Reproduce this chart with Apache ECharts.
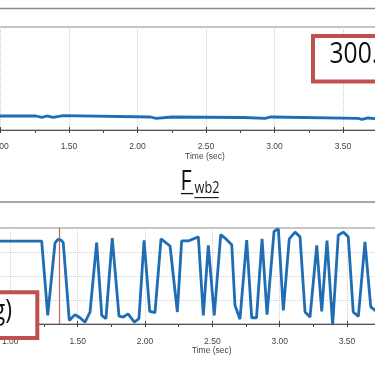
<!DOCTYPE html>
<html><head><meta charset="utf-8">
<script src="https://cdn.jsdelivr.net/npm/echarts@6/dist/echarts.min.js"></script>
<style>html,body{margin:0;padding:0;background:#fff}#c{width:375px;height:375px}</style>
</head><body><div id="c"></div><script>
// Top panel (nearly constant trace)
const topTime = [0.90, 1.259, 1.259, 1.301, 1.301, 1.339, 1.339, 1.383, 1.383, 1.456, 1.456, 2.095, 2.095, 2.135, 2.135, 2.252, 2.252, 2.777, 2.777, 2.931, 2.931, 2.975, 2.975, 3.610, 3.610, 3.639, 3.639, 3.683, 3.683, 3.80];
const topValue = [40.8, 40.8, 37.0, 37.0, 40.8, 40.8, 37.0, 37.0, 41.7, 41.7, 37.9, 37.9, 34.1, 34.1, 37.9, 37.9, 36.4, 36.4, 34.1, 34.1, 37.9, 37.9, 34.1, 34.1, 31.2, 31.2, 35.0, 35.0, 31.2, 31.2];
// Bottom panel F_wb2 (oscillating trace)
const botTime = [0.90, 1.233, 1.278, 1.332, 1.354, 1.376, 1.393, 1.438, 1.480, 1.517, 1.555, 1.592, 1.641, 1.679, 1.710, 1.757, 1.807, 1.839, 1.874, 1.921, 1.955, 1.993, 2.035, 2.074, 2.119, 2.186, 2.240, 2.272, 2.321, 2.396, 2.433, 2.470, 2.514, 2.562, 2.594, 2.644, 2.668, 2.705, 2.755, 2.792, 2.828, 2.869, 2.906, 2.958, 2.990, 3.027, 3.071, 3.114, 3.151, 3.188, 3.225, 3.275, 3.312, 3.351, 3.393, 3.435, 3.472, 3.509, 3.546, 3.584, 3.633, 3.676, 3.708, 3.745];
const botValue = [3.45, 3.45, 0.36, 3.38, 3.53, 3.50, 3.39, 0.15, 0.39, 0.26, 0.08, 0.50, 3.39, 0.36, 0.22, 3.58, 0.33, 0.29, 0.42, 0.08, 0.22, 3.49, 0.53, 0.47, 3.55, 3.25, 0.50, 3.46, 3.46, 3.63, 0.36, 3.28, 0.36, 3.72, 3.58, 3.30, 0.78, 0.20, 3.50, 0.26, 0.26, 3.55, 0.39, 3.86, 3.97, 0.57, 3.55, 3.83, 3.63, 0.50, 0.29, 3.28, 0.53, 3.48, -0.05, 3.70, 3.83, 3.63, 0.50, 0.32, 3.42, 0.71, 0.57, 0.54];
const markerTime = [1.3615];
const xTitle = 'Time (sec)';
const topBoxText = '300.0';
const botBoxText = 'g)';
const panelTitleMain = 'F';
const panelTitleSub = 'wb2';

const BLUE = '#1f6db4';
const RED = '#c0504d';
const SANS = '"Liberation Sans", Arial, sans-serif';
const BIG = '"Open Sans", "Liberation Sans", sans-serif';
const NARROW = 0.8;

function pairs(t, v) { return t.map((x, i) => [x, v[i]]); }

function xAxisPair(gi, margin) {
  return [{
    type: 'value', gridIndex: gi, min: 0.5, max: 4.0, interval: 0.5,
    axisLine: { show: true, onZero: false, lineStyle: { color: '#555', width: 1 } },
    axisTick: { show: true, length: 3, lineStyle: { color: '#444' } },
    minorTick: { show: true, splitNumber: 2, length: 3, lineStyle: { color: '#444' } },
    axisLabel: { margin: margin, fontSize: 8.5, color: '#444', fontFamily: SANS, formatter: v => v.toFixed(2), hideOverlap: false },
    splitLine: { show: true, lineStyle: { color: '#cfcfcf', type: 'dotted' } },
    minorSplitLine: { show: false }
  }, {
    type: 'value', gridIndex: gi, min: 0.5, max: 4.0, interval: 0.5, position: 'bottom',
    axisLine: { show: false, onZero: false },
    axisTick: { show: true, inside: true, length: 3, lineStyle: { color: '#444' } },
    minorTick: { show: false },
    axisLabel: { show: false },
    splitLine: { show: false }
  }];
}

function txt(x, y, text, size, align, color, sx, family) {
  return { type: 'text', x: x, y: y, z: 101, scaleX: sx || 1,
    style: { text: text, fontSize: size, fontFamily: family || SANS, fill: color, align: align, verticalAlign: 'middle', textAlign: align, textVerticalAlign: 'middle' } };
}

const chart = echarts.init(document.getElementById('c'), null, { renderer: 'canvas' });
chart.setOption({
  animation: false,
  backgroundColor: '#fff',
  grid: [
    { left: -68, top: 27, width: 479.5, height: 103, show: true, borderColor: '#888', borderWidth: 1, backgroundColor: 'transparent', containLabel: false, outerBoundsMode: 'none' },
    { left: -57.05, top: 228, width: 471.45, height: 96, show: true, borderColor: '#888', borderWidth: 1, backgroundColor: 'transparent', containLabel: false, outerBoundsMode: 'none' }
  ],
  xAxis: [].concat(xAxisPair(0, 12), xAxisPair(1, 13)),
  yAxis: [
    { type: 'value', gridIndex: 0, min: 0, max: 300, axisLine: { show: false }, axisTick: { show: false }, axisLabel: { show: false }, splitLine: { show: false } },
    { type: 'value', gridIndex: 1, min: 0, max: 4, interval: 1, axisLine: { show: false }, axisTick: { show: false }, axisLabel: { show: false },
      splitLine: { show: true, lineStyle: { color: '#cfcfcf', type: 'dotted' } } }
  ],
  series: [
    { type: 'line', xAxisIndex: 0, yAxisIndex: 0, data: pairs(topTime, topValue), showSymbol: false, clip: true,
      lineStyle: { color: BLUE, width: 2.8 }, z: 3 },
    { type: 'line', xAxisIndex: 2, yAxisIndex: 1, data: pairs(botTime, botValue), showSymbol: false, clip: false,
      lineStyle: { color: BLUE, width: 2.8 }, z: 3,
      markLine: { silent: true, symbol: 'none', label: { show: false }, z: 2,
        lineStyle: { color: '#c0504d', width: 1.2, type: 'solid', opacity: 0.9 },
        data: markerTime.map(t => ({ xAxis: t })) } }
  ],
  graphic: [
    { type: 'line', shape: { x1: 0, y1: 8.5, x2: 375, y2: 8.5 }, style: { stroke: '#8a8a8a', lineWidth: 1.6 }, z: 50 },
    { type: 'line', shape: { x1: 0, y1: 202, x2: 375, y2: 202 }, style: { stroke: '#8a8a8a', lineWidth: 1.6 }, z: 50 },
    { type: 'rect', shape: { x: 313, y: 36, width: 80, height: 45.5 }, style: { fill: '#fff', stroke: RED, lineWidth: 4 }, z: 100 },
    txt(329.5, 54, topBoxText, 30, 'left', '#111', 0.82, BIG),
    { type: 'rect', shape: { x: -20, y: 292.3, width: 57.3, height: 45.7 }, style: { fill: '#fff', stroke: RED, lineWidth: 4 }, z: 100 },
    txt(12, 311, botBoxText, 28, 'right', '#111', 0.82, BIG),
    txt(180.5, 182.5, panelTitleMain, 27, 'left', '#111', 0.8, BIG),
    txt(194.6, 188.3, panelTitleSub, 15.5, 'left', '#111', 0.82, BIG),
    { type: 'line', shape: { x1: 181, y1: 193.6, x2: 193.3, y2: 193.6 }, style: { stroke: '#111', lineWidth: 1.3 }, z: 101 },
    { type: 'line', shape: { x1: 194.3, y1: 197.6, x2: 218.7, y2: 197.6 }, style: { stroke: '#111', lineWidth: 1.1 }, z: 101 },
    txt(205, 156.5, xTitle, 8.5, 'center', '#444'),
    txt(211.7, 351, xTitle, 8.5, 'center', '#444')
  ]
});
</script></body></html>
